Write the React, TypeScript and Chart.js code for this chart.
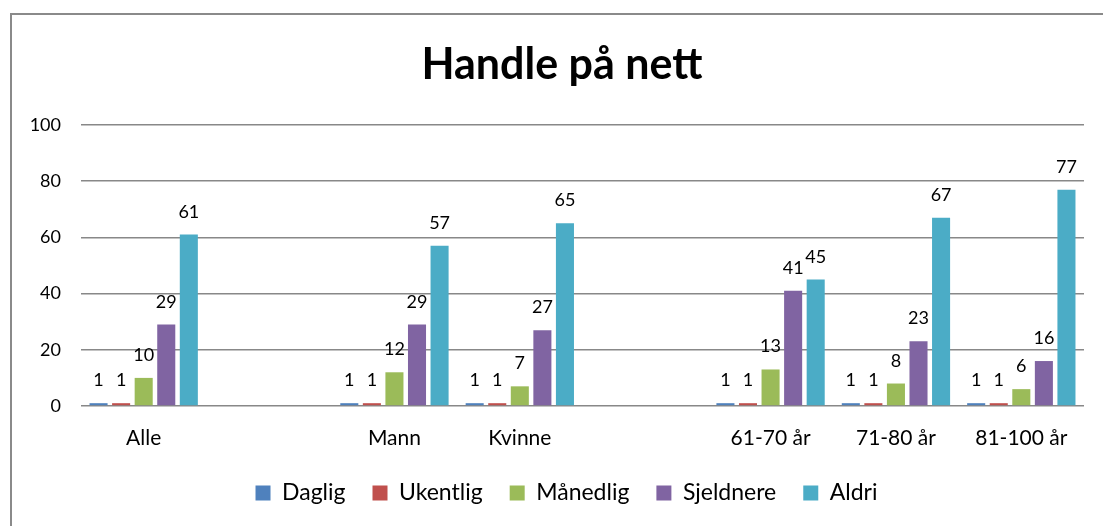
import React, { useEffect, useRef } from "react";
import { Chart, registerables } from "chart.js";

Chart.register(...registerables);

const categories = ["Alle", "", "Mann", "Kvinne", "", "61-70 år", "71-80 år", "81-100 år"];
const seriesNames = ["Daglig", "Ukentlig", "Månedlig", "Sjeldnere", "Aldri"];
const seriesColors = ["#4F81BD", "#C0504D", "#9BBB59", "#8064A2", "#4BACC6"];
const daglig = [1, null, 1, 1, null, 1, 1, 1];
const ukentlig = [1, null, 1, 1, null, 1, 1, 1];
const maanedlig = [10, null, 12, 7, null, 13, 8, 6];
const sjeldnere = [29, null, 29, 27, null, 41, 23, 16];
const aldri = [61, null, 57, 65, null, 45, 67, 77];
const yTicks = [0, 20, 40, 60, 80, 100];

const FONT = "Lato, 'Open Sans', sans-serif";

const valueLabels = {
  id: "valueLabels",
  afterDatasetsDraw(chart: any) {
    const ctx = chart.ctx;
    ctx.save();
    ctx.font = `18px ${FONT}`;
    ctx.fillStyle = "#000";
    ctx.textAlign = "center";
    ctx.textBaseline = "alphabetic";
    chart.data.datasets.forEach((ds: any, i: number) => {
      const meta = chart.getDatasetMeta(i);
      meta.data.forEach((el: any, j: number) => {
        const v = ds.data[j];
        if (v === null || v === undefined) return;
        ctx.fillText(String(v), el.x, el.y - 17);
      });
    });
    ctx.restore();
  },
};

const shiftBlocks = {
  id: "shiftBlocks",
  afterLayout(chart: any) {
    if (chart.titleBlock) chart.titleBlock.left = 40;
    if (chart.legend) chart.legend.left = 49;
  },
};

export default function App() {
  const ref = useRef<HTMLCanvasElement>(null);
  useEffect(() => {
    if (!ref.current) return;
    const all = [daglig, ukentlig, maanedlig, sjeldnere, aldri];
    const chart = new Chart(ref.current, {
      type: "bar",
      data: {
        labels: categories,
        datasets: all.map((d, i) => ({
          label: seriesNames[i],
          data: d,
          backgroundColor: seriesColors[i],
          borderWidth: 0,
          categoryPercentage: 0.9,
          barPercentage: 0.8,
        })),
      },
      options: {
        animation: false,
        responsive: false,
        maintainAspectRatio: false,
        layout: { padding: { left: 20, right: 19, top: 0, bottom: 11.5 } },
        plugins: {
          title: {
            display: true,
            text: "Handle på nett",
            color: "#000",
            font: { family: FONT, size: 43, weight: "bold" },
            padding: { top: 39.3, bottom: 34.1 },
          },
          legend: {
            position: "bottom",
            labels: {
              color: "#000",
              font: { family: FONT, size: 23 },
              boxWidth: 15,
              boxHeight: 15,
              padding: 27,
            },
          },
          tooltip: { enabled: false },
        },
        scales: {
          x: {
            grid: { display: false, drawTicks: false },
            border: { display: false },
            ticks: {
              color: "#000",
              font: { family: FONT, size: 21 },
              padding: 20,
              maxRotation: 0,
              autoSkip: false,
            },
            afterFit: (s: any) => {
              s.height = 48.5;
            },
          },
          y: {
            min: 0,
            max: 100,
            afterBuildTicks: (s: any) => {
              s.ticks = yTicks.map((v) => ({ value: v }));
            },
            grid: { color: "#888888", lineWidth: 1.5, drawTicks: false },
            border: { display: false },
            ticks: {
              color: "#000",
              font: { family: FONT, size: 18 },
              padding: 20,
            },
            afterFit: (s: any) => {
              s.width = 61;
            },
          },
        },
      },
      plugins: [valueLabels, shiftBlocks],
    });
    return () => chart.destroy();
  }, []);

  return (
    <div style={{ position: "absolute", left: 0, top: 0, width: 1103, height: 526, overflow: "hidden", background: "#fff" }}>
      <div
        style={{
          position: "absolute",
          left: 10,
          top: 13,
          width: 1200,
          height: 700,
          borderLeft: "2px solid #8a8a8a",
          borderTop: "2px solid #8a8a8a",
        }}
      />
      <canvas ref={ref} width={1103} height={526} style={{ position: "absolute", left: 0, top: 0 }} />
    </div>
  );
}
